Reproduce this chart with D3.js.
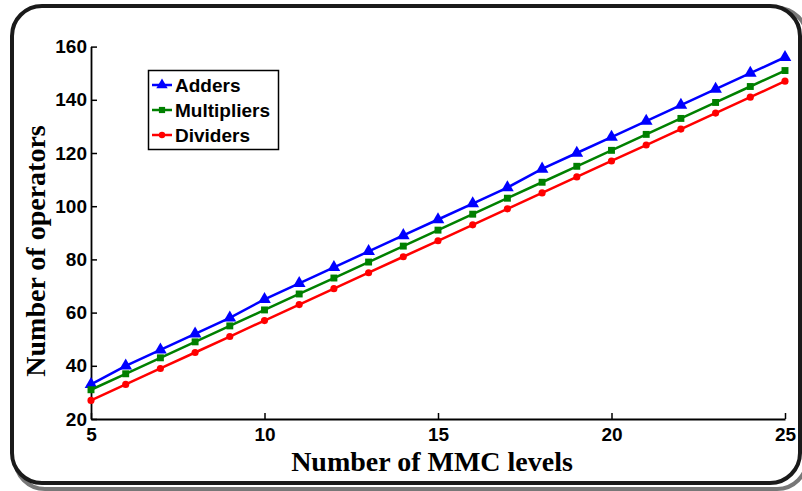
<!DOCTYPE html>
<html>
<head>
<meta charset="utf-8">
<script src="https://cdn.jsdelivr.net/npm/d3@7"></script>
<style>
  html, body { margin: 0; padding: 0; background: #fff; }
  svg { display: block; }
</style>
</head>
<body>
<svg id="chart" width="802" height="491"></svg>
<script>
// MMC levels on the x axis
const levels = [5, 6, 7, 8, 9, 10, 11, 12, 13, 14, 15, 16, 17, 18, 19, 20, 21, 22, 23, 24, 25];
// operator counts per level
const adders      = [33, 40, 46, 52, 58, 65, 71, 77, 83, 89, 95, 101, 107, 114, 120, 126, 132, 138, 144, 150, 156];
const multipliers = [31, 37, 43, 49, 55, 61, 67, 73, 79, 85, 91, 97, 103, 109, 115, 121, 127, 133, 139, 145, 151];
const dividers    = [27, 33, 39, 45, 51, 57, 63, 69, 75, 81, 87, 93, 99, 105, 111, 117, 123, 129, 135, 141, 147];
const xTicks = [5, 10, 15, 20, 25];
const yTicks = [20, 40, 60, 80, 100, 120, 140, 160];
const seriesNames = ["Adders", "Multipliers", "Dividers"];

const series = [
  { name: seriesNames[0], values: adders,      color: "#0000ff", symbol: d3.symbolTriangle, size: 70 },
  { name: seriesNames[1], values: multipliers, color: "#008000", symbol: d3.symbolSquare,   size: 48 },
  { name: seriesNames[2], values: dividers,    color: "#ff0000", symbol: d3.symbolCircle,   size: 40 }
];

const svg = d3.select("#chart");

// rounded frame with a soft grey shadow
svg.append("rect")
  .attr("x", 15).attr("y", 8).attr("width", 792).attr("height", 481)
  .attr("rx", 30).attr("ry", 30)
  .attr("fill", "none").attr("stroke", "#777").attr("stroke-width", 4);
svg.append("rect")
  .attr("x", 12).attr("y", 6).attr("width", 788).attr("height", 477)
  .attr("rx", 30).attr("ry", 30)
  .attr("fill", "#fff").attr("stroke", "#1a1a1a").attr("stroke-width", 4);

const x = d3.scaleLinear().domain([5, 25]).range([91, 785]);
const y = d3.scaleLinear().domain([20, 160]).range([419, 46.6]);

const tickFont = "'Liberation Sans', Arial, sans-serif";
const titleFont = "'Liberation Serif', 'Times New Roman', serif";

// x axis, ticks pointing inward
const gx = svg.append("g").attr("transform", `translate(0,${y(20)})`)
  .call(d3.axisBottom(x).tickValues(xTicks).tickSizeInner(-6).tickSizeOuter(0).tickPadding(9));
gx.select(".domain").attr("stroke", "#000").attr("stroke-width", 1.8);
gx.selectAll(".tick line").attr("stroke", "#000").attr("stroke-width", 1.5);
gx.selectAll(".tick text")
  .attr("font-family", tickFont).attr("font-weight", "bold").attr("font-size", 19).attr("fill", "#000");

// y axis, ticks pointing inward
const gy = svg.append("g").attr("transform", `translate(${x(5)},0)`)
  .call(d3.axisLeft(y).tickValues(yTicks).tickSizeInner(-6).tickSizeOuter(0).tickPadding(4));
gy.select(".domain").attr("stroke", "#000").attr("stroke-width", 1.8);
gy.selectAll(".tick line").attr("stroke", "#000").attr("stroke-width", 1.5);
gy.selectAll(".tick text")
  .attr("font-family", tickFont).attr("font-weight", "bold").attr("font-size", 19).attr("fill", "#000");

// series lines and markers
const line = d3.line().x((d, i) => x(levels[i])).y(d => y(d));
series.forEach(s => {
  svg.append("path")
    .datum(s.values)
    .attr("d", line)
    .attr("fill", "none")
    .attr("stroke", s.color)
    .attr("stroke-width", 2.5);
  svg.append("g").selectAll("path")
    .data(s.values)
    .join("path")
    .attr("transform", (d, i) => `translate(${x(levels[i])},${y(d)})`)
    .attr("d", d3.symbol().type(s.symbol).size(s.size))
    .attr("fill", s.color);
});

// axis titles
svg.append("text")
  .attr("x", 432).attr("y", 471)
  .attr("text-anchor", "middle")
  .attr("font-family", titleFont).attr("font-weight", "bold").attr("font-size", 28)
  .text("Number of MMC levels");
svg.append("text")
  .attr("transform", "translate(45,251) rotate(-90)")
  .attr("text-anchor", "middle")
  .attr("font-family", titleFont).attr("font-weight", "bold").attr("font-size", 28)
  .text("Number of operators");

// legend
const legend = svg.append("g");
legend.append("rect")
  .attr("x", 148.5).attr("y", 70.5).attr("width", 130).attr("height", 79)
  .attr("fill", "#fff").attr("stroke", "#000").attr("stroke-width", 1.5);
series.forEach((s, i) => {
  const ly = 85 + i * 25;
  legend.append("line")
    .attr("x1", 152).attr("x2", 172).attr("y1", ly).attr("y2", ly)
    .attr("stroke", s.color).attr("stroke-width", 2.5);
  legend.append("path")
    .attr("transform", `translate(162,${ly})`)
    .attr("d", d3.symbol().type(s.symbol).size(s.size * 0.8))
    .attr("fill", s.color);
  legend.append("text")
    .attr("x", 175).attr("y", ly + 7)
    .attr("font-family", tickFont).attr("font-weight", "bold").attr("font-size", 19)
    .text(s.name);
});
</script>
</body>
</html>
